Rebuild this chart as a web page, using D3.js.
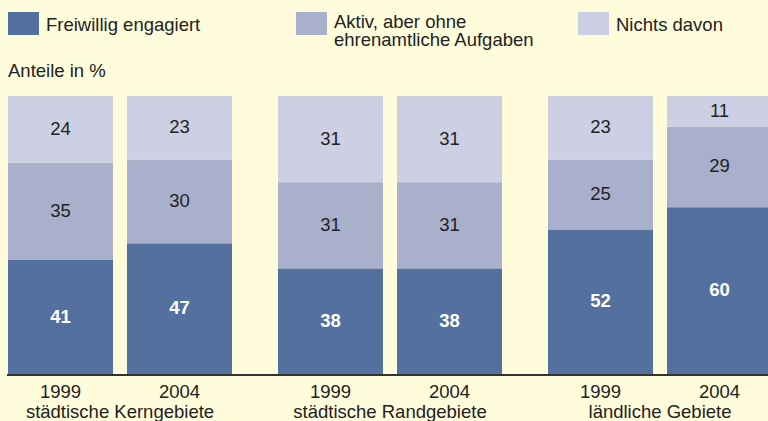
<!DOCTYPE html>
<html>
<head>
<meta charset="utf-8">
<script src="https://cdn.jsdelivr.net/npm/d3@7"></script>
<style>
  html, body { margin: 0; padding: 0; background: #fffcdb; overflow: hidden; }
  svg { display: block; font-family: "Liberation Sans", Arial, sans-serif; }
</style>
</head>
<body>
<div id="chart"></div>
<script>
const groups = ['städtische Kerngebiete', 'städtische Randgebiete', 'ländliche Gebiete'];
const years = ['1999', '2004'];
const seriesNames = ['Freiwillig engagiert', 'Aktiv, aber ohne ehrenamtliche Aufgaben', 'Nichts davon'];
// values per bar, in order group x year
const freiwillig = [41, 47, 38, 38, 52, 60];
const aktiv = [35, 30, 31, 31, 25, 29];
const nichts = [24, 23, 31, 31, 23, 11];
const colors = ['#53709f', '#a8b0cc', '#ccd0e2'];

const width = 768, height = 421;
const fontSize = 18.5;

const svg = d3.select('#chart')
  .append('svg')
  .attr('width', width)
  .attr('height', height);

// build rows for stacking
const rows = [];
groups.forEach((g, gi) => {
  years.forEach((yr, yi) => {
    const i = gi * years.length + yi;
    rows.push({ group: g, year: yr, s0: freiwillig[i], s1: aktiv[i], s2: nichts[i] });
  });
});

const x0 = d3.scaleBand().domain(groups).range([8, 772]).paddingInner(46 / 270);
const x1 = d3.scaleBand().domain(years).range([0, x0.bandwidth()]).paddingInner(14 / 119);
const y = d3.scaleLinear().domain([0, 100]).range([374, 96]);

const stack = d3.stack().keys(['s0', 's1', 's2']);
const layers = stack(rows);

const layer = svg.selectAll('g.layer')
  .data(layers)
  .enter()
  .append('g')
  .attr('class', 'layer')
  .attr('fill', (d, i) => colors[i]);

layer.selectAll('rect')
  .data(d => d)
  .enter()
  .append('rect')
  .attr('x', d => x0(d.data.group) + x1(d.data.year))
  .attr('y', d => y(d[1]))
  .attr('width', x1.bandwidth())
  .attr('height', d => y(d[0]) - y(d[1]));

layer.each(function (l, li) {
  d3.select(this).selectAll('text')
    .data(l)
    .enter()
    .append('text')
    .attr('x', d => x0(d.data.group) + x1(d.data.year) + x1.bandwidth() / 2)
    .attr('y', d => (y(d[0]) + y(d[1])) / 2 + 5.5)
    .attr('text-anchor', 'middle')
    .attr('font-size', fontSize)
    .attr('font-weight', li === 0 ? 'bold' : 'normal')
    .attr('fill', li === 0 ? '#ffffff' : '#222222')
    .text(d => d[1] - d[0]);
});

// baseline
svg.append('line')
  .attr('x1', 7).attr('x2', width)
  .attr('y1', y(0) + 1).attr('y2', y(0) + 1)
  .attr('stroke', '#333333')
  .attr('stroke-width', 2);

// year labels
svg.selectAll('text.year')
  .data(rows)
  .enter()
  .append('text')
  .attr('class', 'year')
  .attr('x', d => x0(d.group) + x1(d.year) + x1.bandwidth() / 2)
  .attr('y', 398)
  .attr('text-anchor', 'middle')
  .attr('font-size', fontSize)
  .attr('fill', '#222222')
  .text(d => d.year);

// group labels
svg.selectAll('text.group')
  .data(groups)
  .enter()
  .append('text')
  .attr('class', 'group')
  .attr('x', d => x0(d) + x0.bandwidth() / 2)
  .attr('y', 418)
  .attr('text-anchor', 'middle')
  .attr('font-size', fontSize)
  .attr('fill', '#222222')
  .text(d => d);

// legend
const legendX = [8, 296, 578];
const legend = svg.selectAll('g.legend')
  .data(seriesNames)
  .enter()
  .append('g')
  .attr('class', 'legend')
  .attr('transform', (d, i) => `translate(${legendX[i]},12)`);

legend.append('rect')
  .attr('width', 31)
  .attr('height', 23)
  .attr('fill', (d, i) => colors[i]);

legend.each(function (d, i) {
  const lines = i === 1 ? ['Aktiv, aber ohne', 'ehrenamtliche Aufgaben'] : [d];
  d3.select(this).selectAll('text')
    .data(lines)
    .enter()
    .append('text')
    .attr('x', 38)
    .attr('y', (t, j) => (lines.length > 1 ? 16 : 19) + j * 18)
    .attr('font-size', fontSize)
    .attr('fill', '#222222')
    .text(t => t);
});

svg.append('text')
  .attr('x', 8)
  .attr('y', 77)
  .attr('font-size', fontSize)
  .attr('fill', '#222222')
  .text('Anteile in %');
</script>
</body>
</html>
